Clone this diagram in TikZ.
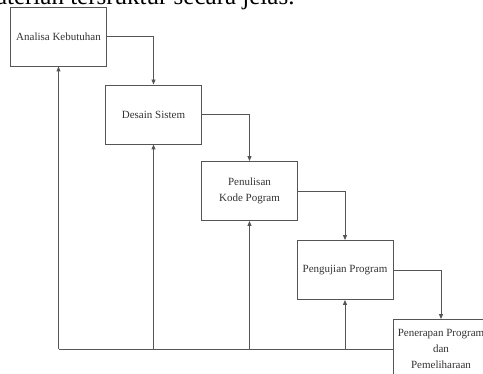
\documentclass[tikz,border=0pt]{standalone}
\usepackage{fontspec}
\setmainfont{Liberation Serif}
\usetikzlibrary{arrows.meta}

\definecolor{lineclr}{HTML}{555555}
\definecolor{textclr}{HTML}{333333}

\begin{document}
\begin{tikzpicture}
  [x=1pt, y=-1pt,
   stage/.style={draw=lineclr, line width=0.9pt, text=textclr, align=center,
     minimum width=96pt, minimum height=59pt, inner sep=1pt,
     font=\fontsize{11}{16}\selectfont},
   flow/.style={draw=lineclr, line width=0.9pt, -{Triangle[length=5pt,width=4pt]}},
   back/.style={draw=lineclr, line width=0.9pt}]
  \useasboundingbox (0, 0) rectangle (483, 374);
  \clip (0, 0) rectangle (483, 374);
  \node[anchor=base east, font=\fontsize{25}{28}\selectfont] (head) at (298, 5)
    {materian tersruktur secara jelas.};
  \node[stage] (analisa) at (58.5, 36.5) {Analisa Kebutuhan};
  \node[stage] (desain) at (153.5, 114.5) {Desain Sistem};
  \node[stage] (kode) at (249.5, 191) {Penulisan\\Kode Pogram};
  \node[stage] (uji) at (345, 270) {Pengujian Program};
  \node[stage] (terap) at (441, 349) {Penerapan Program\\dan\\Pemeliharaan};
  \draw[flow] (analisa.east) -| (desain.north);
  \draw[flow] (desain.east) -| (kode.north);
  \draw[flow] (kode.east) -| (uji.north);
  \draw[flow] (uji.east) -| (terap.north);
  \draw[back] (terap.west) -- (analisa.south |- terap.west);
  \foreach \s in {analisa, desain, kode, uji}
    \draw[flow] (\s.south |- terap.west) -- (\s.south);
\end{tikzpicture}
\end{document}
